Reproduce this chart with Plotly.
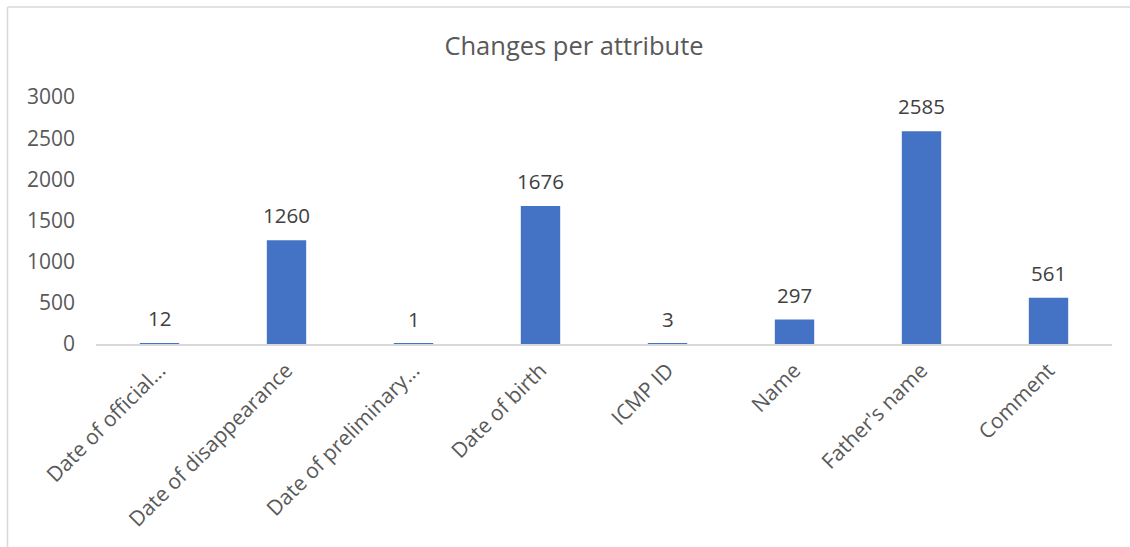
import plotly.graph_objects as go

categories = ["Date of official...", "Date of disappearance", "Date of preliminary...",
              "Date of birth", "ICMP ID", "Name", "Father's name", "Comment"]
changes = [12, 1260, 1, 1676, 3, 297, 2585, 561]
y_ticks = [0, 500, 1000, 1500, 2000, 2500, 3000]

FONT = "Open Sans, Segoe UI, sans-serif"
GRAY = "#595959"

fig = go.Figure()
fig.add_trace(go.Bar(
    x=categories, y=changes,
    marker=dict(color="#4472C4", line=dict(width=0)),
    hoverinfo="x+y",
))

for c, v in zip(categories, changes):
    fig.add_annotation(x=c, y=v, text=str(v), showarrow=False,
                       yshift=25, yanchor="middle",
                       font=dict(family=FONT, size=20.5, color="#404040"))

# chart-area border (left and top edges visible)
fig.add_shape(type="line", xref="paper", yref="paper",
              x0=-0.0871, x1=-0.0871, y0=-0.9, y1=1.3639,
              line=dict(color="#D9D9D9", width=1.5))
fig.add_shape(type="line", xref="paper", yref="paper",
              x0=-0.0871, x1=1.1, y0=1.3639, y1=1.3639,
              line=dict(color="#D9D9D9", width=1.5))

fig.update_layout(
    width=1130, height=547,
    margin=dict(l=96, r=18, t=97, b=203),
    paper_bgcolor="white", plot_bgcolor="white",
    bargap=0.69,
    showlegend=False,
    font=dict(family=FONT, size=20, color=GRAY),
    title=dict(text="Changes per attribute", x=0.508, xref="container", xanchor="center",
               y=1 - 46 / 547, yref="container", yanchor="middle",
               font=dict(family=FONT, size=25.5, color=GRAY)),
    xaxis=dict(tickangle=-45, showgrid=False, showline=True, linecolor="#D9D9D9",
               linewidth=1.5, ticks="", tickfont=dict(size=21, color=GRAY),
               ticklabelstandoff=4),
    yaxis=dict(range=[0, 3000], tickvals=y_ticks, showgrid=False, zeroline=False,
               showline=False, ticks="", tickfont=dict(size=21, color=GRAY),
               ticklabelstandoff=20),
)

fig.write_html("out.html")
